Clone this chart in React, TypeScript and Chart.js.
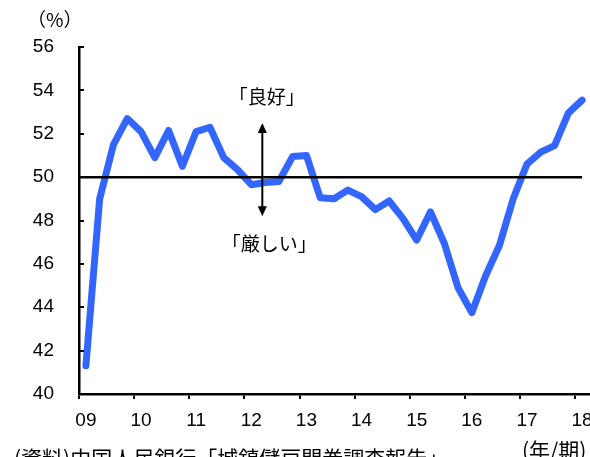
import React, { useEffect, useRef } from "react";
import { Chart, registerables } from "chart.js";

Chart.register(...registerables);

// Year labels shown at the first quarter of each year
const years = ["09", "10", "11", "12", "13", "14", "15", "16", "17", "18"];
// Quarters per year label (2009Q1 .. 2018Q1)
const quarterNames = ["1Q", "2Q", "3Q", "4Q"];
// Diffusion index (%), quarterly, 2009Q1 - 2018Q1
const diValues = [
  41.3, 49.0, 51.5, 52.7, 52.1, 50.9, 52.15, 50.5, 52.1, 52.3,
  50.9, 50.35, 49.65, 49.75, 49.8, 50.95, 51.0, 49.05, 49.0, 49.4,
  49.1, 48.5, 48.9, 48.1, 47.1, 48.4, 46.95, 44.9, 43.75, 45.45,
  46.85, 49.0, 50.6, 51.15, 51.45, 52.95, 53.55,
];
const yTicks = [40, 42, 44, 46, 48, 50, 52, 54, 56];
const baseline = 50;

const labels: string[] = [];
for (let i = 0; i < diValues.length; i++) {
  labels.push(years[Math.floor(i / 4)] + "/" + quarterNames[i % 4]);
}

const JP = '"Noto Sans CJK JP", "Noto Sans", sans-serif';
const NUM = '"Liberation Sans", Arial, sans-serif';

const decorPlugin = {
  id: "decor",
  afterDraw(chart: any) {
    const { ctx, chartArea } = chart;
    const xs = chart.scales.x;
    const ys = chart.scales.y;
    ctx.save();
    // inward y ticks
    ctx.strokeStyle = "#000";
    ctx.lineWidth = 2;
    for (const v of yTicks) {
      const py = Math.round(ys.getPixelForValue(v));
      ctx.beginPath();
      ctx.moveTo(chartArea.left, py);
      ctx.lineTo(chartArea.left + 5, py);
      ctx.stroke();
    }
    // 50 line
    const by = ys.getPixelForValue(baseline);
    ctx.lineWidth = 2.5;
    ctx.beginPath();
    ctx.moveTo(chartArea.left, by);
    ctx.lineTo(xs.getPixelForValue(diValues.length - 1), by);
    ctx.stroke();

    // arrow
    const ax = xs.getPixelForValue(12.8);
    const yTop = ys.getPixelForValue(52.5);
    const yBot = ys.getPixelForValue(48.2);
    ctx.lineWidth = 2;
    ctx.beginPath();
    ctx.moveTo(ax, yTop + 6);
    ctx.lineTo(ax, yBot - 6);
    ctx.stroke();
    ctx.fillStyle = "#000";
    ctx.beginPath();
    ctx.moveTo(ax, yTop);
    ctx.lineTo(ax - 4.5, yTop + 10);
    ctx.lineTo(ax + 4.5, yTop + 10);
    ctx.closePath();
    ctx.fill();
    ctx.beginPath();
    ctx.moveTo(ax, yBot);
    ctx.lineTo(ax - 4.5, yBot - 10);
    ctx.lineTo(ax + 4.5, yBot - 10);
    ctx.closePath();
    ctx.fill();

    // annotations
    ctx.font = "19px " + JP;
    ctx.textAlign = "center";
    ctx.textBaseline = "middle";
    ctx.fillText("「良好」", xs.getPixelForValue(13.13), ys.getPixelForValue(53.69));
    ctx.fillText("「厳しい」", xs.getPixelForValue(13.3), ys.getPixelForValue(46.94));

    // unit labels and source
    ctx.textAlign = "left";
    ctx.font = "19px " + JP;
    ctx.fillText("（%）", 27, 20);
    ctx.textBaseline = "top";
    ctx.font = "21px " + JP;
    ctx.fillText("(資料)中国人民銀行「城鎮儲戸問巻調査報告」", 14, 448);
    ctx.fillText("(年/期)", 522, 440);
    ctx.restore();
  },
};

export default function App() {
  const ref = useRef<HTMLCanvasElement | null>(null);
  useEffect(() => {
    if (!ref.current) return;
    const chart = new Chart(ref.current, {
      type: "line",
      data: {
        labels,
        datasets: [
          {
            data: diValues,
            borderColor: "#3366ff",
            backgroundColor: "#3366ff",
            borderWidth: 7,
            pointRadius: 0,
            borderCapStyle: "round",
            borderJoinStyle: "round",
            tension: 0,
          },
        ],
      },
      options: {
        responsive: false,
        animation: false,
        devicePixelRatio: 1,
        layout: { padding: { left: 0, right: 1, top: 47, bottom: 0 } },
        plugins: { legend: { display: false }, tooltip: { enabled: false } },
        scales: {
          x: {
            type: "category",
            offset: true,
            afterFit: (s: any) => {
              s.height = 63;
              s.paddingLeft = 0;
              s.paddingRight = 0;
            },
            border: { display: true, color: "#000", width: 2.5 },
            grid: {
              offset: true,
              drawOnChartArea: false,
              drawTicks: true,
              tickLength: 5,
              lineWidth: 2,
              color: (c: any) => (c.index % 4 === 0 ? "#000" : "rgba(0,0,0,0)"),
            },
            ticks: {
              autoSkip: false,
              maxRotation: 0,
              padding: 10,
              color: "#000",
              font: { family: NUM, size: 19 },
              callback: (_v: any, i: number) => (i % 4 === 0 ? years[i / 4] : ""),
            },
          },
          y: {
            min: 40,
            max: 56,
            afterFit: (s: any) => {
              s.width = 79;
              s.paddingTop = 0;
              s.paddingBottom = 0;
            },
            afterBuildTicks: (s: any) => {
              s.ticks = yTicks.map((v) => ({ value: v }));
            },
            border: { display: true, color: "#000", width: 2.5 },
            grid: { display: true, drawOnChartArea: false, drawTicks: false },
            ticks: {
              padding: 25,
              color: "#000",
              font: { family: NUM, size: 19 },
            },
          },
        },
      },
      plugins: [decorPlugin],
    } as any);
    return () => chart.destroy();
  }, []);
  return (
    <div style={{ position: "absolute", left: 0, top: 0, width: 590, height: 457, overflow: "hidden", background: "#fff" }}>
      <canvas ref={ref} width={590} height={457} style={{ display: "block" }} />
    </div>
  );
}
